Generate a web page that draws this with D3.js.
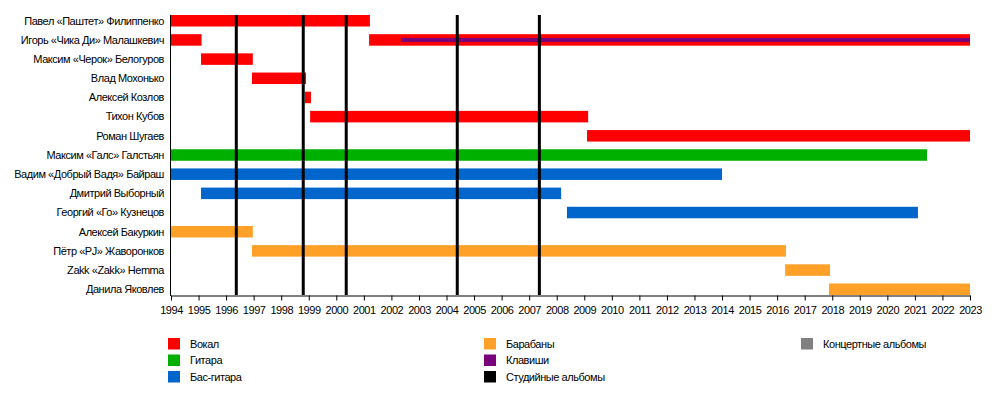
<!DOCTYPE html>
<html>
<head>
<meta charset="utf-8">
<script src="https://cdn.jsdelivr.net/npm/d3@7"></script>
<style>
  body { margin: 0; background: #fff; }
  text { font-family: "Liberation Sans", Arial, sans-serif; font-size: 11px; letter-spacing: -0.45px; fill: #000; }
</style>
</head>
<body>
<div id="chart"></div>
<script>
const members = [
  "Павел «Паштет» Филиппенко",
  "Игорь «Чика Ди» Малашкевич",
  "Максим «Черок» Белогуров",
  "Влад Мохонько",
  "Алексей Козлов",
  "Тихон Кубов",
  "Роман Шугаев",
  "Максим «Галс» Галстьян",
  "Вадим «Добрый Вадя» Байраш",
  "Дмитрий Выборный",
  "Георгий «Го» Кузнецов",
  "Алексей Бакуркин",
  "Пётр «PJ» Жаворонков",
  "Zakk «Zakk» Hemma",
  "Данила Яковлев"
];

const roles = ["Вокал", "Гитара", "Бас-гитара", "Барабаны", "Клавиши", "Студийные альбомы", "Концертные альбомы"];
const roleColors = ["#ff0000", "#00b000", "#0066cc", "#ffa028", "#780078", "#000000", "#808080"];

// [member, role, start, end]
const periods = [
  [0, "Вокал", 1994, 2001.22],
  [1, "Вокал", 1994, 1995.11],
  [1, "Вокал", 2001.19, 2023],
  [2, "Вокал", 1995.09, 1996.97],
  [3, "Вокал", 1996.94, 1998.90],
  [4, "Вокал", 1998.86, 1999.08],
  [5, "Вокал", 1999.05, 2009.14],
  [6, "Вокал", 2009.10, 2023],
  [7, "Гитара", 1994, 2021.44],
  [8, "Бас-гитара", 1994, 2014.0],
  [9, "Бас-гитара", 1995.09, 2008.16],
  [10, "Бас-гитара", 2008.37, 2021.11],
  [11, "Барабаны", 1994, 1996.97],
  [12, "Барабаны", 1996.94, 2016.32],
  [13, "Барабаны", 2016.29, 2017.92],
  [14, "Барабаны", 2017.88, 2023]
];

// secondary roles drawn as a thin bar inside the main one
const extras = [
  [1, "Клавиши", 2002.35, 2023]
];

const studioAlbums = [1996.37, 1998.80, 2000.36, 2004.39, 2007.37];

const years = d3.range(1994, 2024);

const w = 1000, h = 395;

const color = d3.scaleOrdinal().domain(roles).range(roleColors);

const x = d3.scaleLinear().domain([1994, 2023]).range([171, 970]);
const y = d3.scaleBand().domain(members).range([15, 295]).paddingInner(0.4).paddingOuter(0);

const svg = d3.select("#chart").append("svg")
  .attr("width", w)
  .attr("height", h);

// bars
svg.selectAll("rect.bar")
  .data(periods)
  .enter()
  .append("rect")
  .attr("class", "bar")
  .attr("x", d => x(d[2]))
  .attr("y", d => y(members[d[0]]))
  .attr("width", d => x(d[3]) - x(d[2]))
  .attr("height", y.bandwidth())
  .attr("fill", d => color(d[1]));

svg.selectAll("rect.extra")
  .data(extras)
  .enter()
  .append("rect")
  .attr("class", "extra")
  .attr("x", d => x(d[2]))
  .attr("y", d => y(members[d[0]]) + y.bandwidth() / 2 - 2)
  .attr("width", d => x(d[3]) - x(d[2]))
  .attr("height", 4)
  .attr("fill", d => color(d[1]));

// studio albums
svg.selectAll("line.album")
  .data(studioAlbums)
  .enter()
  .append("line")
  .attr("class", "album")
  .attr("x1", d => x(d))
  .attr("x2", d => x(d))
  .attr("y1", 15)
  .attr("y2", 295)
  .attr("stroke", color("Студийные альбомы"))
  .attr("stroke-width", 3);

// member labels
svg.selectAll("text.member")
  .data(members)
  .enter()
  .append("text")
  .attr("class", "member")
  .attr("x", 164)
  .attr("y", d => y(d) + y.bandwidth() / 2)
  .attr("dy", "0.35em")
  .attr("text-anchor", "end")
  .text(d => d);

// axes
const xAxis = d3.axisBottom(x)
  .tickValues(years)
  .tickFormat(d3.format("d"))
  .tickSize(5)
  .tickSizeOuter(0);

const gx = svg.append("g")
  .attr("transform", "translate(0, 295.5)")
  .call(xAxis);
gx.selectAll("text")
  .attr("font-family", null)
  .attr("font-size", null)
  .attr("y", 11);
gx.selectAll("line, path").attr("stroke", "#000");

svg.append("line")
  .attr("x1", 170.5)
  .attr("x2", 170.5)
  .attr("y1", 15)
  .attr("y2", 296)
  .attr("stroke", "#000");

// legend
const legendCols = [[0, 1, 2], [3, 4, 5], [6]];
const legendX = [168, 484, 801];

legendCols.forEach((col, ci) => {
  const g = svg.append("g").attr("transform", `translate(${legendX[ci]}, 338)`);
  const item = g.selectAll("g")
    .data(col)
    .enter()
    .append("g")
    .attr("transform", (d, i) => `translate(0, ${i * 16.5})`);
  item.append("rect")
    .attr("width", 12)
    .attr("height", 11.5)
    .attr("fill", d => roleColors[d]);
  item.append("text")
    .attr("x", 22)
    .attr("y", 6)
    .attr("dy", "0.35em")
    .text(d => roles[d]);
});
</script>
</body>
</html>
